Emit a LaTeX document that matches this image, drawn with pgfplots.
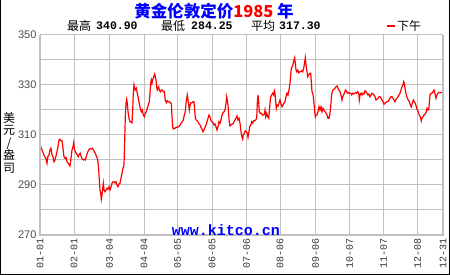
\documentclass[border=0pt]{standalone}
\usepackage{pgfplots}
\pgfplotsset{compat=1.18}
\usepackage{fontspec}
\setmainfont{Liberation Sans}
\newfontfamily\cjk{Noto Sans CJK SC}
\newfontfamily\mono{Liberation Mono}
\definecolor{gridgray}{HTML}{C0C0C0}
\definecolor{tblue}{HTML}{0000FF}
\definecolor{tred}{HTML}{FF0000}
\begin{document}
\begin{tikzpicture}[x=1pt,y=1pt]
\useasboundingbox (0,0) rectangle (450,275);
\begin{axis}[
  at={(40pt,40pt)}, anchor=south west, scale only axis,
  width=403pt, height=200pt,
  xmin=0, xmax=403, ymin=270, ymax=350,
  axis line style={draw=none},
  grid=major, major grid style={gridgray, line width=1pt},
  major tick length=0pt,
  xtick={0,34,69.5,104,137.5,172,206.7,240,275.5,309.5,343.5,377.5,403},
  xticklabels={01-01,02-01,03-04,04-04,05-05,06-05,07-06,08-06,09-06,10-07,11-07,12-08,12-31},
  x tick label style={rotate=90, anchor=east, font=\mono\fontsize{10}{10}\selectfont, text=black!80},
  ytick={270,280,...,350},
  yticklabels={270,,290,,310,,330,,350},
  y tick label style={font=\fontsize{11}{11}\selectfont, text=black!70},
]
\addplot[tred, line width=1.2pt, no markers, sharp plot] coordinates {
(0,306.0) (2,304.0) (3.3,302.7) (4.7,301.3) (6,300.7) (7,298.7) (8,301.6) (9,302.0) (10,304.0) (11,304.7) (12,302.0) (13,301.3) (14,299.3) (15,300.0) (16,301.6) (17,303.3) (18,305.3) (19,308.0) (20,308.3) (21,307.7) (22,307.7) (23,304.7) (24,301.3) (25,300.7) (26,301.0) (27,299.3) (28,298.7) (29,298.3) (30,297.6) (31,300.7) (32,304.0) (33,305.3) (33.7,306.9) (34.3,304.7) (35.3,303.3) (36.3,302.7) (37.3,302.0) (38.3,301.3) (39.3,302.4) (40.3,302.7) (41.3,301.3) (42.3,300.3) (43.3,300.0) (44.3,300.3) (45.3,300.0) (46.3,301.3) (47.3,302.7) (48.3,303.7) (49.3,304.3) (50.3,304.5) (51.3,304.4) (52.3,304.7) (53.3,304.3) (54.3,303.3) (55.3,302.7) (56.3,301.6) (57.3,300.7) (58,299.3) (58.7,296.0) (59.3,292.0) (60,288.0) (60.7,286.7) (61.3,284.25) (62,286.0) (62.7,288.7) (63.3,290.7) (64,288.0) (65,287.3) (66,288.0) (67,288.7) (68,288.3) (69,289.3) (70,288.0) (71,289.3) (72,290.7) (73,291.3) (74,291.3) (75,290.9) (76,291.3) (77,290.0) (78,289.3) (79,290.4)
(80,290.7) (81,292.7) (82,294.7) (83,296.7) (84,298.0) (84.7,308.0) (85.3,317.3) (86,322.7) (86.7,324.3) (87.3,322.7) (88,319.3) (89,316.7) (90,315.3) (91,315.3) (92,314.9) (92.7,320.0) (93.3,326.7) (94,330.0) (94.7,328.7) (95.3,328.0) (96.3,328.7) (97.3,326.7) (98.3,324.7) (99.3,322.7) (100.3,320.7) (101.3,319.3) (102.3,320.0) (103.3,318.0) (104.3,317.3) (105.3,318.7) (106.3,319.3) (107.3,320.7) (108.3,322.0) (109.3,323.3) (110,326.7) (110.7,330.7) (111.3,332.0) (112,330.7) (112.7,332.0) (113.3,332.7) (114,333.6) (114.7,334.4) (115.3,333.3) (116,332.0) (116.7,329.3) (117.3,328.0) (118,328.7) (118.7,329.3) (119.3,328.0) (120.3,327.3) (121.3,328.0) (122.3,328.0) (123.3,327.3) (124.3,327.3) (125.3,324.0) (126.3,322.9) (127.3,323.7) (128.3,323.3) (129.3,323.3) (130.3,322.9) (131.3,322.7) (132,317.3) (132.7,313.3) (133.3,312.4) (134.3,312.7) (135.3,312.7) (136.3,313.1) (137.3,313.1) (138.3,313.3) (139.3,313.6) (140.3,314.0) (141.3,314.9) (142.3,315.3) (143.3,316.0) (144.3,318.0) (145.3,319.3) (146,322.7) (146.7,324.7) (147.3,326.0) (148,324.0) (148.7,322.0) (149.3,320.0) (150,322.0) (151,322.9) (152,322.9) (153,323.3) (154,323.3) (154.7,320.0) (155.3,316.7) (156.3,316.0) (157.3,315.7) (158.3,314.9) (159.3,314.4)
(160,314.0) (161,313.1) (162,312.3) (163,311.3) (164,312.0) (165,313.1) (166,314.0) (167,315.3) (168,316.7) (169,318.0) (170,317.3) (171,315.7) (172,315.3) (173,314.9) (174,314.0) (175,314.4) (176,313.3) (177,312.0) (178,313.3) (179,315.3) (180,314.7) (181,316.0) (182,318.0) (183,318.9) (184,319.3) (185,320.0) (186,322.7) (186.7,325.3) (187.3,324.0) (188,322.0) (188.7,318.0) (189.3,315.3) (190,313.6) (191,314.0) (192,314.4) (193,314.4) (194,315.3) (195,316.0) (196,316.7) (197,317.6) (198,316.0) (199,316.7) (200,314.7) (201,311.3) (202,309.1) (202.7,308.3) (203.3,310.0) (204.3,310.7) (205.3,311.7) (206.3,311.3) (207.3,310.7) (208,309.1) (208.7,310.7) (209.7,313.3) (210.7,314.0) (211.7,315.3) (212.7,314.7) (213.7,315.7) (214.7,315.7) (215.7,316.0) (216.7,316.7) (217.3,322.7) (218,326.0) (218.7,323.3) (219.3,319.3) (220.3,318.7) (221.3,318.7) (222.3,318.0) (223.3,318.0) (224.3,318.4) (225,320.0) (225.7,317.3) (226.7,318.7) (227.7,317.3) (228.7,316.7) (229.3,319.3) (230,322.7) (230.7,325.3) (231.7,326.0) (232.7,326.7) (233.7,326.0) (234.3,327.7) (235,326.7) (235.7,323.3) (236.3,320.7) (237,322.0) (238,321.6) (239,322.7) (240,324.0)
(241,322.4) (242,321.3) (243,322.0) (244,322.7) (245,323.3) (246,325.3) (247,326.7) (248,326.0) (249,328.0) (250,330.7) (250.7,334.0) (251.3,336.7) (252.3,337.3) (253.3,338.7) (254,340.0) (254.7,340.9) (255.3,338.7) (256,336.0) (256.7,335.3) (257.7,336.0) (258.7,334.9) (259.7,335.3) (260.7,335.3) (261.7,335.7) (262.7,335.3) (263.7,336.7) (264.7,339.3) (265.3,340.9) (266,338.0) (267,335.3) (267.7,333.3) (268.7,334.0) (269.7,334.7) (270.7,334.7) (271.3,331.3) (272,327.3) (272.7,326.7) (273.3,325.3) (274,322.7) (274.7,319.3) (275.3,317.3) (276,318.0) (277,318.0) (278,319.3) (279,321.3) (280,320.0) (281,321.3) (282,319.3) (283,320.7) (284,320.0) (285,319.3) (286,318.7) (287,318.0) (288,316.7) (289,316.7) (290,318.7) (290.7,321.3) (291.3,324.7) (292,327.0) (293,328.0) (294,328.3) (295,328.7) (296,329.3) (297,329.6) (298,328.7) (299,328.0) (300,327.3) (301,326.0) (302,324.0) (302.7,325.3) (303.7,326.0) (304.7,327.3) (305.7,328.0) (306.7,327.3) (307.7,326.7) (308.7,327.0) (309.7,326.7) (310.7,326.7) (311.7,326.0) (312.7,326.7) (313.7,326.4) (314.7,326.7) (315.7,327.0) (316.7,326.7) (317.7,327.3) (318.7,326.7) (319.3,324.0)
(320,326.0) (321,326.7) (322,326.0) (323,326.7) (324,326.4) (325,327.7) (326,327.3) (327,326.7) (328,326.0) (329,326.4) (330,325.3) (331,326.0) (332,326.7) (333,326.4) (334,326.0) (335,325.3) (336,324.0) (337,324.3) (338,324.7) (339,325.3) (340,325.3) (341,324.7) (342,324.0) (343,323.3) (344,322.3) (345,322.7) (346,323.1) (347,323.3) (348,323.3) (349,324.0) (350,324.7) (351,325.3) (352,325.3) (353,324.7) (354,324.0) (355,323.3) (356,324.3) (357,324.7) (358,325.3) (359,326.0) (360,326.7) (361,328.0) (362,329.3) (363,330.0) (363.7,331.3) (364.3,330.7) (365,328.7) (365.7,327.3) (366.3,326.0) (367.3,324.7) (368.3,324.0) (369.3,323.3) (370.3,322.0) (371.3,321.3) (372.3,322.7) (373.3,324.0) (374.3,323.3) (375.3,322.7) (376.3,321.3) (377.3,320.0) (378.3,319.3) (379.3,318.0) (380.3,317.3) (381.3,315.7) (382,316.7) (383,317.3) (384,318.0) (385,318.4) (386,318.9) (387,320.7) (388,320.0) (388.7,320.0) (389.3,322.7) (390,326.0) (391,326.7) (392,326.7) (393,327.3) (394,328.0) (395,326.7) (396,324.7) (397,326.0) (398,326.7) (399,327.0) (400,327.0) (401,327.0) (402,327.0)
};
\end{axis}
% plot frame
\draw[gridgray, line width=2pt] (40,240) -- (40,40) -- (443,40) -- (443,240);
% outer frame
\draw[black, line width=1pt] (0.5,275) -- (0.5,0.5) -- (449.5,0.5) -- (449.5,275);
% watermark
\node[font=\mono\bfseries\fontsize{15}{15}\selectfont, text=tblue, inner sep=0] at (226,45) {www.kitco.cn};
% title
\node[inner sep=0] at (214,264) {\cjk\bfseries\fontsize{16.5}{17}\selectfont\color{tblue}黄金伦敦定价\color{tred}1985 \color{tblue}年};
% stats line
\node[anchor=west, inner sep=0, font=\cjk\fontsize{12}{12}\selectfont] at (67,249) {最高};
\node[anchor=west, inner sep=0, font=\mono\bfseries\fontsize{11.5}{12}\selectfont] at (96,249) {340.90};
\node[anchor=west, inner sep=0, font=\cjk\fontsize{12}{12}\selectfont] at (161,249) {最低};
\node[anchor=west, inner sep=0, font=\mono\bfseries\fontsize{11.5}{12}\selectfont] at (191,249) {284.25};
\node[anchor=west, inner sep=0, font=\cjk\fontsize{12}{12}\selectfont] at (251,249) {平均};
\node[anchor=west, inner sep=0, font=\mono\bfseries\fontsize{11.5}{12}\selectfont] at (279,249) {317.30};
\draw[tred, line width=2.5pt] (387,249) -- (395,249);
\node[anchor=west, inner sep=0, font=\cjk\fontsize{12}{12}\selectfont] at (397,249) {下午};
% y label
\node[align=center, inner sep=0, font=\cjk\fontsize{12}{12.5}\selectfont] at (9,132.5) {美\\元\\/\\盎\\司};
\end{tikzpicture}
\end{document}
